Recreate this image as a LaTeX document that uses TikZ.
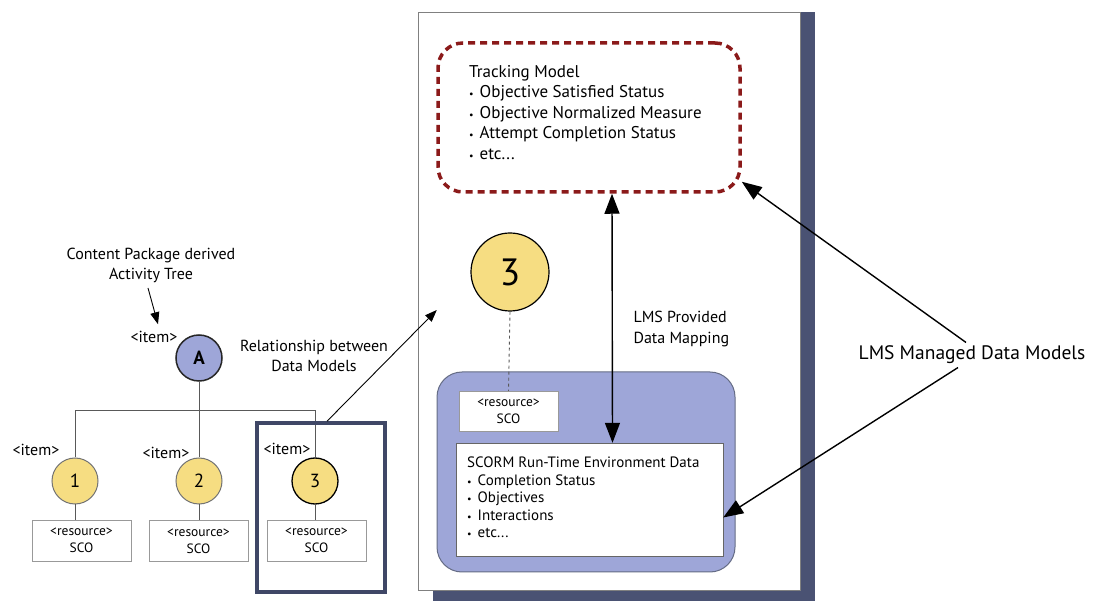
\documentclass[tikz,border=0pt]{standalone}
\usepackage{fontspec}
\setmainfont{PT Sans}
\usetikzlibrary{arrows.meta,positioning}
\definecolor{darkred}{HTML}{8B1A1A}
\definecolor{lavender}{HTML}{9EA6D8}
\definecolor{navy}{HTML}{3F4766}
\definecolor{pale}{HTML}{F6DD82}
\definecolor{pageshadow}{HTML}{4A5273}
\newcommand{\bul}{{\fontsize{10}{10}\selectfont\textbullet}\hspace{6pt}}

\begin{document}
\begin{tikzpicture}[x=1pt,y=-1pt,
  every node/.style={font=\fontsize{16}{20}\selectfont},
  res/.style={draw=gray!80, fill=white, minimum width=99pt, minimum height=41pt,
    align=center, inner sep=0pt, font=\fontsize{13.5}{17}\selectfont},
  itm/.style={circle, minimum size=46pt, inner sep=0pt, fill=pale,
    draw=gray!90!black, line width=1pt, font=\fontsize{19}{19}\selectfont},
  bigarrow/.style={-{Triangle[length=20pt,width=15pt]}, line width=1.4pt},
  thinarrow/.style={-{Triangle[length=12pt,width=9pt]}, line width=0.9pt},
  tree/.style={draw=gray!70!black, line width=0.9pt}]
  \useasboundingbox[fill=white] (0,0) rectangle (1096,601);

  % page with the LMS side
  \fill[pageshadow] (433,12) rectangle (815,601);
  \node[draw=gray, fill=white, minimum width=382pt, minimum height=578pt] (page) at (609,301) {};

  \node[draw=darkred, line width=3.5pt, dash pattern=on 7pt off 5pt, rounded corners=25pt,
    minimum width=302pt, minimum height=149pt] (track) at (589,117.5) {};
  \node[anchor=north west, align=left, inner sep=0pt, font=\fontsize{17}{20.5}\selectfont] (tracktext) at (469,65)
    {Tracking Model\\ \bul Objective Satisfied Status\\ \bul Objective Normalized Measure\\
     \bul Attempt Completion Status\\ \bul etc...};

  \node[itm, minimum size=78pt, draw=black, line width=1.2pt, font=\fontsize{38}{38}\selectfont] (bc) at (510,272) {3};

  \node[draw=navy!80, fill=lavender, line width=1pt, rounded corners=25pt,
    minimum width=298pt, minimum height=200pt] (env) at (586,472) {};
  \node[res, minimum height=40pt] (rs) at (508.5,411) {<resource>\\SCO};
  \node[draw=gray!80!black, fill=white, minimum width=267pt, minimum height=113pt] (rte) at (589.5,499.5) {};
  \node[anchor=north west, align=left, inner sep=0pt, font=\fontsize{15}{17.5}\selectfont] (rtetext) at (467,457)
    {SCORM Run-Time Environment Data\\ \bul Completion Status\\ \bul Objectives\\
     \bul Interactions\\ \bul etc...};
  \draw[dashed, gray!70!black, line width=0.9pt] (bc.south) -- (rs.north);

  \draw[{Triangle[length=20pt,width=15pt]}-{Triangle[length=20pt,width=15pt]}, line width=1.4pt]
    ([xshift=23pt]track.south) -- ([xshift=23pt]rte.north);
  \node[anchor=west, align=left, font=\fontsize{16}{21}\selectfont] (map) at (630,329) {LMS Provided\\Data Mapping};

  \node[font=\fontsize{19.5}{22}\selectfont] (lms) at (972,355) {LMS Managed Data Models};
  \draw[bigarrow] ([xshift=-6pt]lms.north) -- ([yshift=12pt]track.south east);
  \draw[bigarrow] ([xshift=-14pt]lms.south) -- ([yshift=-18pt]rte.east);

  % activity tree
  \node[align=center] (cp) at (151,265) {Content Package derived\\Activity Tree};
  \node[itm, fill=lavender, draw=black!85, line width=1.5pt] (A) at (199,358) {\textbf{A}};
  \node (iA) at (154,337) {<item>};
  \draw[thinarrow] (148,288) -- ([xshift=-41pt,yshift=10pt]A.north);

  \node[itm] (c1) at (75,481) {1};
  \node[itm] (c2) at (199,481) {2};
  \node[itm, draw=black, line width=1.3pt] (c3) at (315,481) {3};
  \node (i1) at (36,450) {<item>};
  \node (i2) at (166,453) {<item>};
  \node (i3) at (287,449) {<item>};
  \coordinate (bar) at (199,410);
  \draw[tree] (A) -- (c2);
  \draw[tree] (c1.north) -- (c1.north |- bar) -- (c3.north |- bar) -- (c3.north);

  \node[res] (r1) at (81.5,540.5) {<resource>\\SCO};
  \node[res] (r2) at (198.5,541) {<resource>\\SCO};
  \node[res] (r3) at (316.5,540.5) {<resource>\\SCO};
  \draw[tree] (c1.south) -- (c1.south |- r1.north);
  \draw[tree] (c2.south) -- (c2.south |- r2.north);
  \draw[tree] (c3.south) -- (c3.south |- r3.north);

  \node[draw=navy, line width=3.5pt, minimum width=128pt, minimum height=169pt] (sel) at (321,507.5) {};
  \node[align=center] (rel) at (314,356) {Relationship between\\Data Models};
  \draw[thinarrow] ([xshift=6pt]sel.north) -- ([xshift=19pt,yshift=-9pt]page.west);
\end{tikzpicture}
\end{document}
